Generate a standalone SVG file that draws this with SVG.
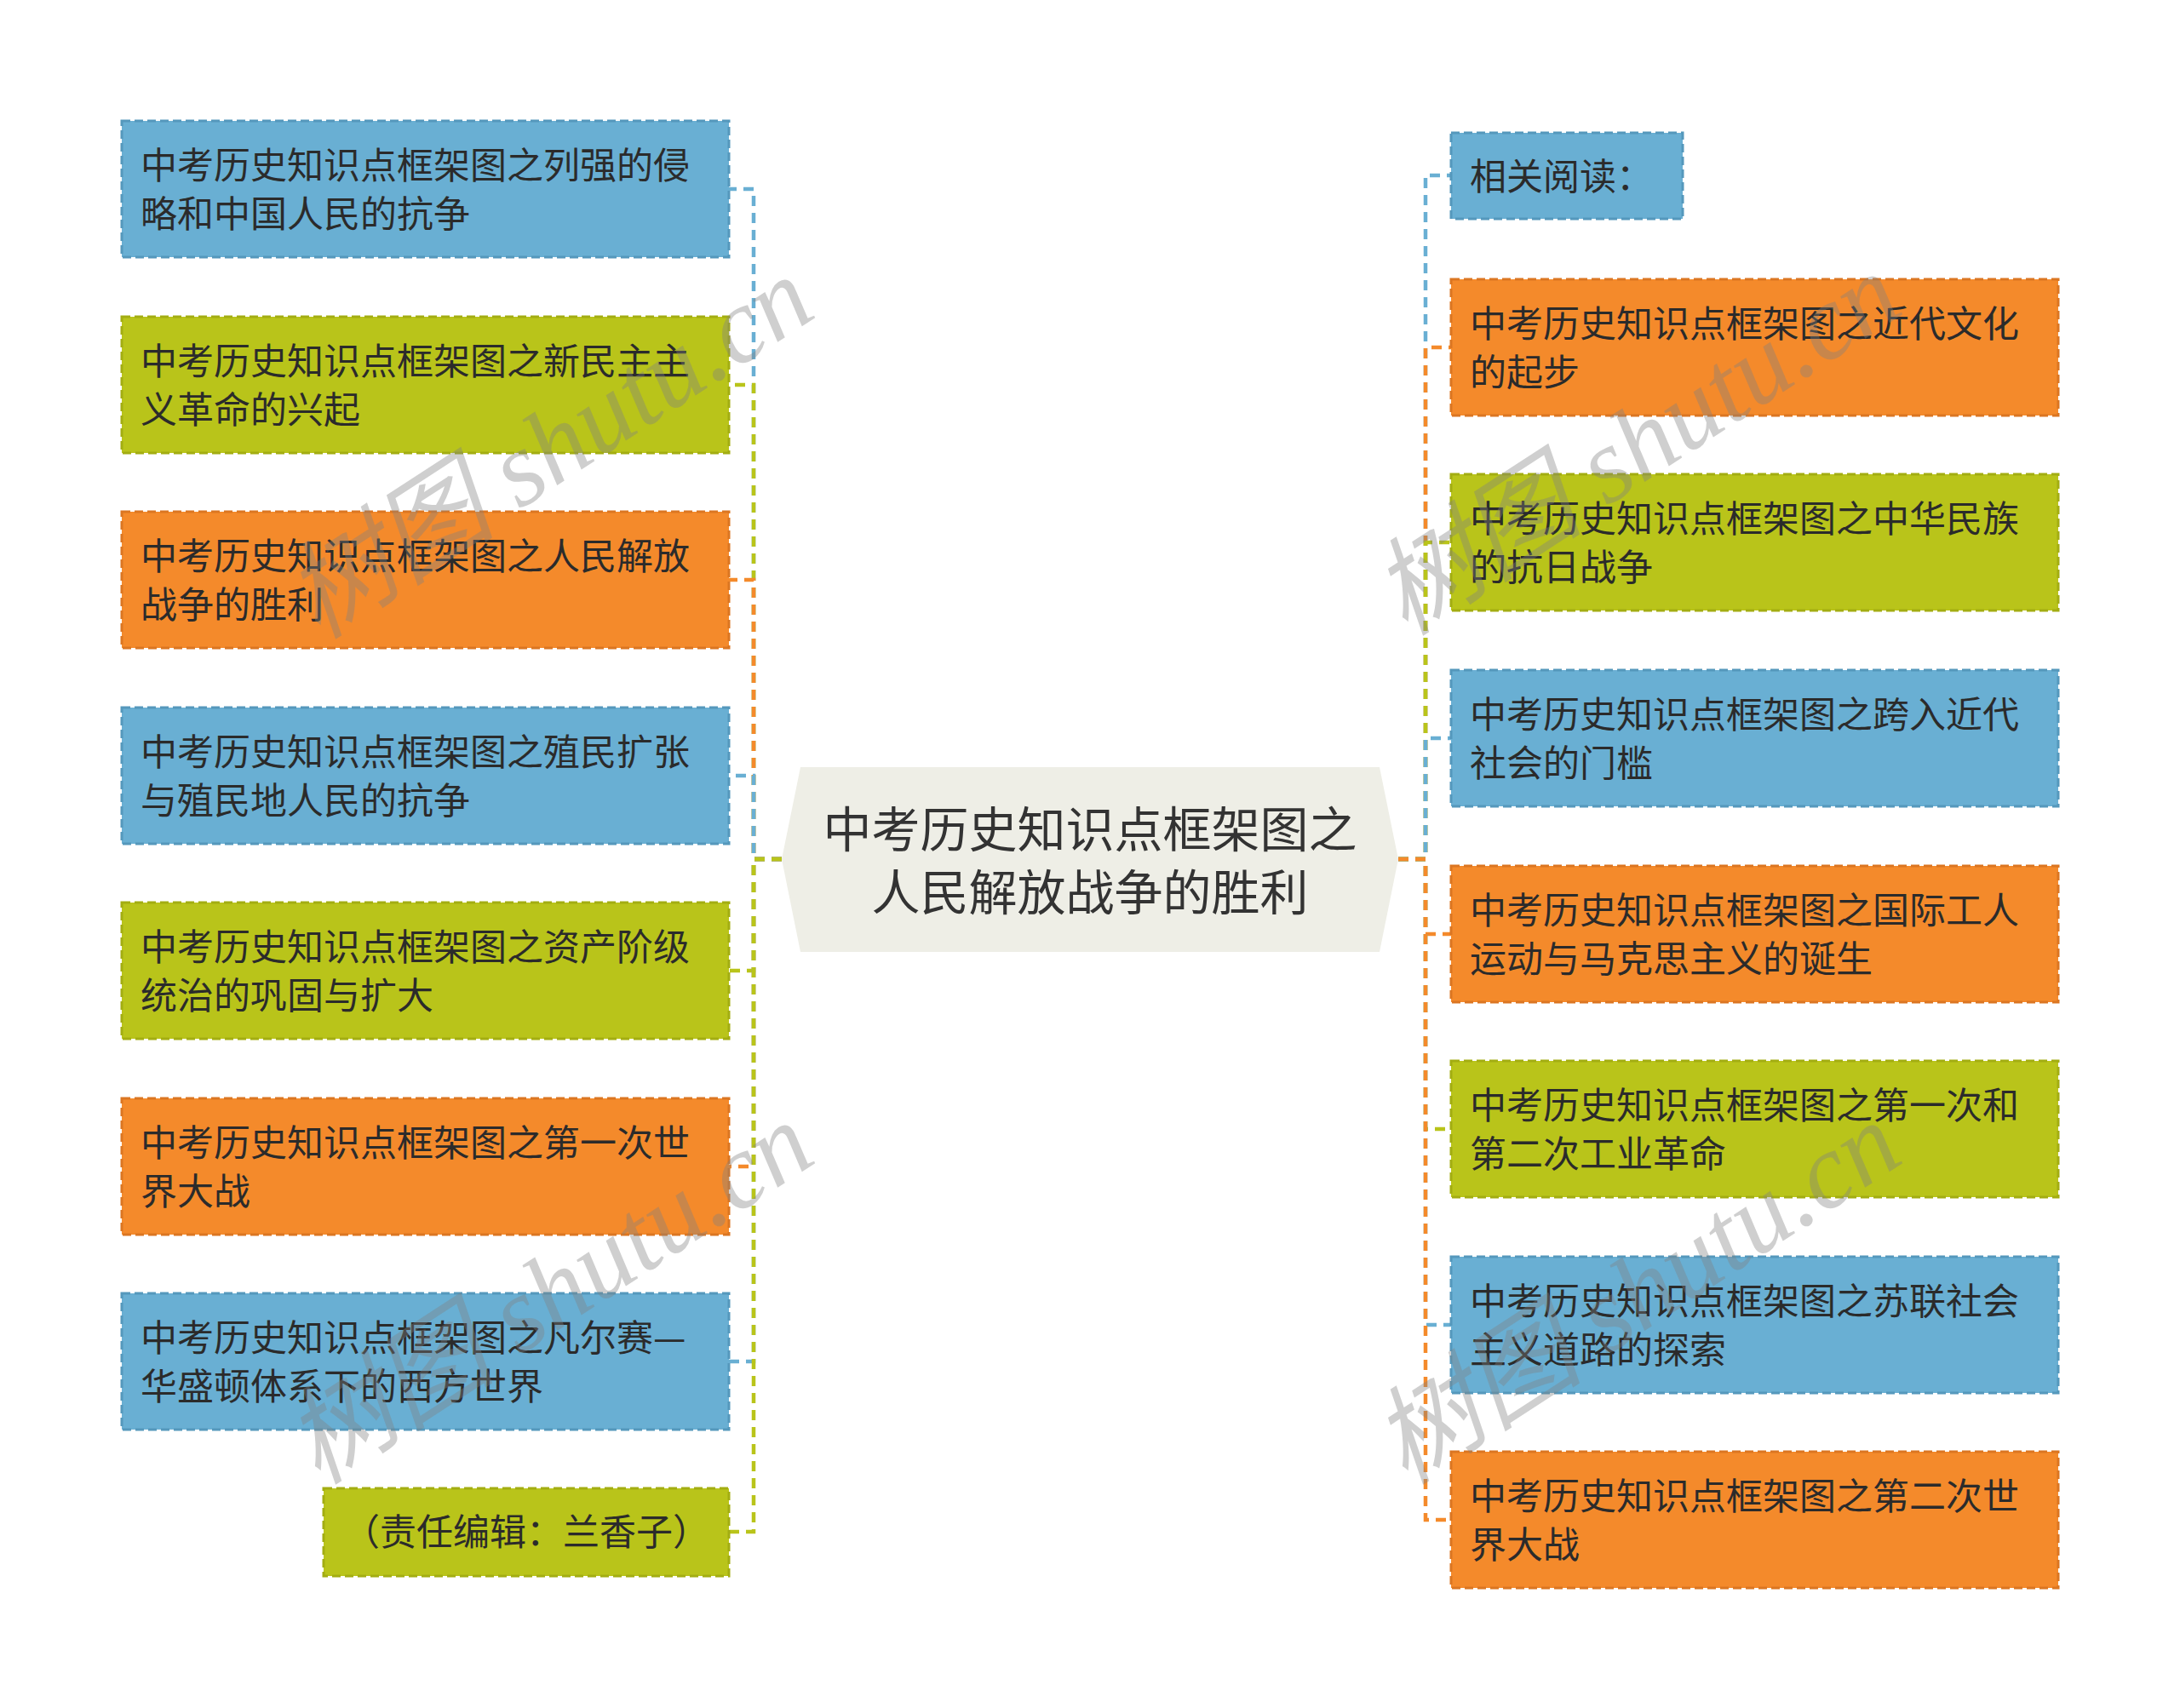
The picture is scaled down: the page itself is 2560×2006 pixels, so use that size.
<svg xmlns="http://www.w3.org/2000/svg" width="2560" height="2006" viewBox="0 0 2560 2006">
<style>
.t{font-family:"Noto Sans CJK SC","Noto Sans",sans-serif;font-size:43px;fill:#2b2b2b}
.ct{font-family:"Noto Sans CJK SC","Noto Sans",sans-serif;font-size:57px;fill:#333333;text-anchor:middle}
.blue{fill:#69AFD3;stroke:#5598BC;stroke-width:3;stroke-dasharray:10 5}
.green{fill:#B9C41A;stroke:#A3AD12;stroke-width:3;stroke-dasharray:10 5}
.orange{fill:#F48A2B;stroke:#DB7622;stroke-width:3;stroke-dasharray:10 5}
.c{fill:none;stroke-width:4.5;stroke-dasharray:12 8}
.cb{stroke:#69AFD3}.cg{stroke:#B9C41A}.co{stroke:#F48A2B}
.wm{font-family:"Liberation Serif","Noto Sans CJK SC",serif;font-style:italic;font-size:125px;fill:#808080;fill-opacity:0.38;text-anchor:middle}
</style>
<rect width="2560" height="2006" fill="#ffffff"/>
<g id="connectors">
<path class="c cb" d="M918,1009 H885 V222 H856"/>
<path class="c cg" d="M918,1009 H885 V452 H856"/>
<path class="c co" d="M918,1009 H885 V681 H856"/>
<path class="c cb" d="M918,1009 H885 V911 H856"/>
<path class="c cg" d="M918,1009 H885 V1140 H856"/>
<path class="c co" d="M918,1009 H885 V1370 H856"/>
<path class="c cb" d="M918,1009 H885 V1599 H856"/>
<path class="c cg" d="M918,1009 H885 V1799 H856"/>
<path class="c cb" d="M1642,1009 H1674 V206 H1704"/>
<path class="c co" d="M1642,1009 H1674 V408 H1704"/>
<path class="c cg" d="M1642,1009 H1674 V637 H1704"/>
<path class="c cb" d="M1642,1009 H1674 V867 H1704"/>
<path class="c co" d="M1642,1009 H1674 V1097 H1704"/>
<path class="c cg" d="M1642,1009 H1674 V1326 H1704"/>
<path class="c cb" d="M1642,1009 H1674 V1556 H1704"/>
<path class="c co" d="M1642,1009 H1674 V1785 H1704"/>
</g>
<g id="center">
<polygon points="918,1009 940,901 1620,901 1642,1009 1620,1118 940,1118" fill="#EEEEE6"/>
<text class="ct" x="1280" y="995">中考历史知识点框架图之</text>
<text class="ct" x="1280" y="1069">人民解放战争的胜利</text>
</g>
<g id="L1"><rect class="blue" x="143" y="142" width="713" height="160"/><text class="t" x="165" y="209.5">中考历史知识点框架图之列强的侵</text><text class="t" x="165" y="266.5">略和中国人民的抗争</text></g>
<g id="L2"><rect class="green" x="143" y="372" width="713" height="160"/><text class="t" x="165" y="439.5">中考历史知识点框架图之新民主主</text><text class="t" x="165" y="496.5">义革命的兴起</text></g>
<g id="L3"><rect class="orange" x="143" y="601" width="713" height="160"/><text class="t" x="165" y="668.5">中考历史知识点框架图之人民解放</text><text class="t" x="165" y="725.5">战争的胜利</text></g>
<g id="L4"><rect class="blue" x="143" y="831" width="713" height="160"/><text class="t" x="165" y="898.5">中考历史知识点框架图之殖民扩张</text><text class="t" x="165" y="955.5">与殖民地人民的抗争</text></g>
<g id="L5"><rect class="green" x="143" y="1060" width="713" height="160"/><text class="t" x="165" y="1127.5">中考历史知识点框架图之资产阶级</text><text class="t" x="165" y="1184.5">统治的巩固与扩大</text></g>
<g id="L6"><rect class="orange" x="143" y="1290" width="713" height="160"/><text class="t" x="165" y="1357.5">中考历史知识点框架图之第一次世</text><text class="t" x="165" y="1414.5">界大战</text></g>
<g id="L7"><rect class="blue" x="143" y="1519" width="713" height="160"/><text class="t" x="165" y="1586.5">中考历史知识点框架图之凡尔赛—</text><text class="t" x="165" y="1643.5">华盛顿体系下的西方世界</text></g>
<g id="L8"><rect class="green" x="380" y="1748" width="476" height="103"/><text class="t" x="403" y="1815">（责任编辑：兰香子）</text></g>
<g id="R1"><rect class="blue" x="1704" y="156" width="272" height="101"/><text class="t" x="1726" y="223">相关阅读：</text></g>
<g id="R2"><rect class="orange" x="1704" y="328" width="713" height="160"/><text class="t" x="1726" y="395.5">中考历史知识点框架图之近代文化</text><text class="t" x="1726" y="452.5">的起步</text></g>
<g id="R3"><rect class="green" x="1704" y="557" width="713" height="160"/><text class="t" x="1726" y="624.5">中考历史知识点框架图之中华民族</text><text class="t" x="1726" y="681.5">的抗日战争</text></g>
<g id="R4"><rect class="blue" x="1704" y="787" width="713" height="160"/><text class="t" x="1726" y="854.5">中考历史知识点框架图之跨入近代</text><text class="t" x="1726" y="911.5">社会的门槛</text></g>
<g id="R5"><rect class="orange" x="1704" y="1017" width="713" height="160"/><text class="t" x="1726" y="1084.5">中考历史知识点框架图之国际工人</text><text class="t" x="1726" y="1141.5">运动与马克思主义的诞生</text></g>
<g id="R6"><rect class="green" x="1704" y="1246" width="713" height="160"/><text class="t" x="1726" y="1313.5">中考历史知识点框架图之第一次和</text><text class="t" x="1726" y="1370.5">第二次工业革命</text></g>
<g id="R7"><rect class="blue" x="1704" y="1476" width="713" height="160"/><text class="t" x="1726" y="1543.5">中考历史知识点框架图之苏联社会</text><text class="t" x="1726" y="1600.5">主义道路的探索</text></g>
<g id="R8"><rect class="orange" x="1704" y="1705" width="713" height="160"/><text class="t" x="1726" y="1772.5">中考历史知识点框架图之第二次世</text><text class="t" x="1726" y="1829.5">界大战</text></g>
<g id="watermark">
<text class="wm" transform="translate(645,526) rotate(-33)" y="42">树图 shutu.cn</text>
<text class="wm" transform="translate(645,1519) rotate(-33)" y="42">树图 shutu.cn</text>
<text class="wm" transform="translate(1922,522) rotate(-33)" y="42">树图 shutu.cn</text>
<text class="wm" transform="translate(1922,1519) rotate(-33)" y="42">树图 shutu.cn</text>
</g>
</svg>
